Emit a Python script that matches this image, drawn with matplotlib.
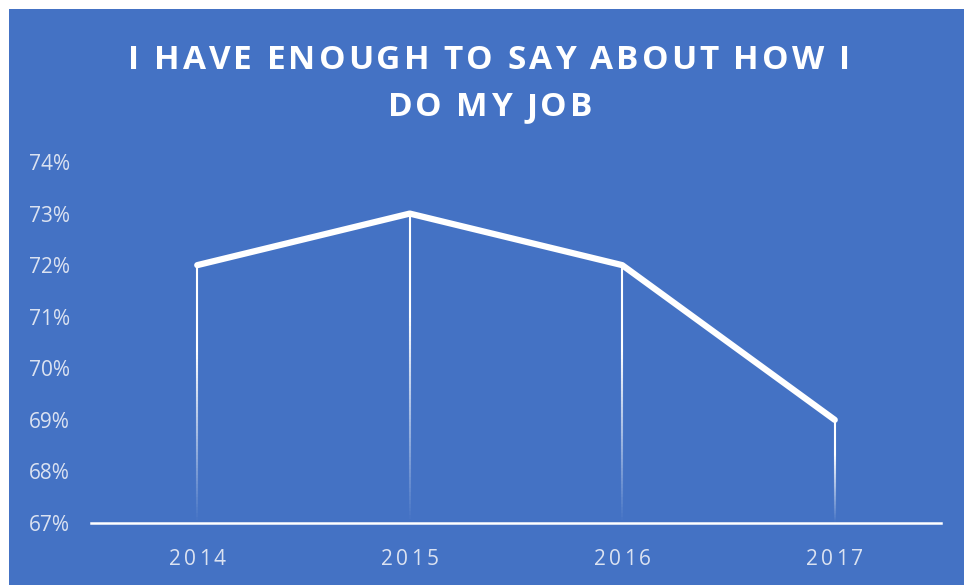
import matplotlib
matplotlib.use("Agg")
import matplotlib.pyplot as plt
import numpy as np
from matplotlib import font_manager
from matplotlib.collections import LineCollection
from matplotlib.font_manager import FontProperties
from matplotlib.ft2font import FT2Font
from matplotlib.patches import Rectangle

YEARS = ["2014", "2015", "2016", "2017"]
AGREE_PCT = [72, 73, 72, 69]
Y_TICKS = [67, 68, 69, 70, 71, 72, 73, 74]
TITLE_LINES = ["I HAVE ENOUGH TO SAY ABOUT HOW I", "DO MY JOB"]

BLUE = "#4472c4"
LABEL = "#dbe2f1"

W, H, DPI = 964, 585, 100


def advances(text, prop):
    font = FT2Font(font_manager.findfont(prop))
    font.set_size(prop.get_size_in_points(), DPI)
    return [font.load_char(ord(ch)).linearHoriAdvance / 65536 for ch in text]


def spaced_text(fig, text, cx, baseline, spacing, prop, color):
    # letter-spaced text centred on cx; cx / baseline in pixels from top-left
    adv = advances(text, prop)
    total = sum(adv) + spacing * (len(text) - 1)
    pen = cx - total / 2
    for ch, a in zip(text, adv):
        if ch != " ":
            fig.text(pen / W, 1 - baseline / H, ch, ha="left",
                     va="baseline", fontproperties=prop, color=color)
        pen += a + spacing


fig = plt.figure(figsize=(W / DPI, H / DPI), dpi=DPI, facecolor="white")
fig.patches.append(Rectangle((9 / W, 0), 1 - 9 / W, 1 - 9 / H,
                             transform=fig.transFigure, facecolor=BLUE,
                             edgecolor="none", zorder=-1))

ax = fig.add_axes([91 / W, 62 / H, 850 / W, 361 / H])
ax.set_facecolor("none")
x = np.arange(len(YEARS))
ax.set_xlim(-0.5, len(YEARS) - 0.5)
ax.set_ylim(Y_TICKS[0], Y_TICKS[-1])

# drop lines fading out towards the axis
n = 80
for xi, yi in zip(x, AGREE_PCT):
    ys = np.linspace(yi, Y_TICKS[0], n + 1)
    segs = [[(xi, ys[k]), (xi, ys[k + 1])] for k in range(n)]
    t = np.linspace(0, 1, n)
    colors = np.ones((n, 4))
    colors[:, 3] = np.clip((1 - t) * 1.5, 0, 1)
    ax.add_collection(LineCollection(segs, colors=colors, linewidths=1.5,
                                     capstyle="butt", zorder=2))

ax.plot(x, AGREE_PCT, color="white", lw=4.5, solid_joinstyle="round",
        solid_capstyle="round", zorder=3)

for side in ("top", "right", "left"):
    ax.spines[side].set_visible(False)
ax.spines["bottom"].set_color("white")
ax.spines["bottom"].set_linewidth(1.8)
ax.spines["bottom"].set_zorder(4)

tick_font = FontProperties(family="Open Sans", size=15)
ax.set_yticks(Y_TICKS, [f"{v}%" for v in Y_TICKS])
for lbl in ax.get_yticklabels():
    lbl.set_fontproperties(tick_font)
    lbl.set_color(LABEL)
ax.tick_params(axis="y", length=0, pad=15)
ax.set_xticks([])

for xi, year in zip(x, YEARS):
    px = ax.transData.transform((xi, Y_TICKS[0]))[0]
    spaced_text(fig, year, px, 565, 3, tick_font, LABEL)

title_font = FontProperties(family="Open Sans", weight="bold", size=24)
spaced_text(fig, TITLE_LINES[0], 489, 69, 3, title_font, "white")
spaced_text(fig, TITLE_LINES[1], 490, 116, 3, title_font, "white")

fig.savefig("out.png", dpi=DPI, facecolor="white")
